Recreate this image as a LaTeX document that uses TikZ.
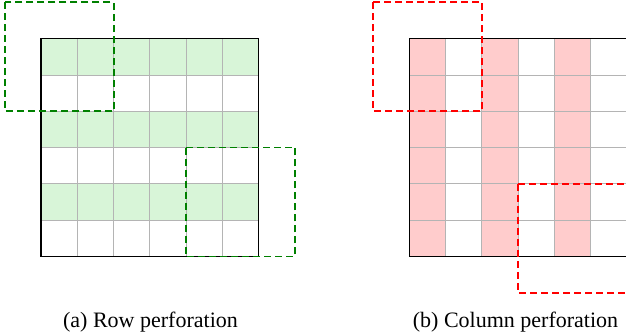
\documentclass[tikz,border=0pt]{standalone}
\usepackage{fontspec}
\setmainfont{Liberation Serif}
\definecolor{rowfill}{RGB}{216,245,216}
\definecolor{colfill}{RGB}{255,204,204}
\definecolor{greendash}{RGB}{0,128,0}
\definecolor{reddash}{RGB}{255,0,0}
\definecolor{gridgray}{RGB}{180,180,180}
\tikzset{
  gridline/.style={draw=gridgray, line width=0.9pt},
  frame/.style={draw=black, line width=1.3pt},
  window/.style={line width=1.8pt, dash pattern=on 7pt off 4pt},
  caption/.style={font=\fontsize{22}{26}\selectfont, anchor=base, inner sep=0pt}
}
\begin{document}
\begin{tikzpicture}[x=1pt,y=-1pt]
\useasboundingbox (0,0) rectangle (626,336);
\clip (0,0) rectangle (626,336);
\def\c{36.3}
% ---- left grid (row perforation)
\begin{scope}[shift={(41,38.7)}]
  \foreach \r in {0,2,4} {
    \fill[rowfill] (0,\r*\c) rectangle (6*\c,\r*\c+\c);
  }
  \foreach \i in {1,...,5} {
    \draw[gridline] (\i*\c,0) -- (\i*\c,6*\c);
    \draw[gridline] (0,\i*\c) -- (6*\c,\i*\c);
  }
  \draw[frame] (0,0) rectangle (6*\c,6*\c);
  \draw[window, greendash] (-\c,-\c) rectangle (2*\c,2*\c);
  \draw[window, greendash] (4*\c,3*\c) rectangle (7*\c,6*\c);
\end{scope}
% ---- right grid (column perforation)
\begin{scope}[shift={(409.3,38.7)}]
  \foreach \k in {0,2,4} {
    \fill[colfill] (\k*\c,0) rectangle (\k*\c+\c,6*\c);
  }
  \foreach \i in {1,...,5} {
    \draw[gridline] (\i*\c,0) -- (\i*\c,6*\c);
    \draw[gridline] (0,\i*\c) -- (6*\c,\i*\c);
  }
  \draw[frame] (0,0) rectangle (6*\c,6*\c);
  \draw[window, reddash] (-\c,-\c) rectangle (2*\c,2*\c);
  \draw[window, reddash] (3*\c,4*\c) rectangle (6*\c,7*\c);
\end{scope}
\node[caption] (capa) at (150.5,327) {(a) Row perforation};
\node[caption] (capb) at (515.5,327) {(b) Column perforation};
\end{tikzpicture}
\end{document}
